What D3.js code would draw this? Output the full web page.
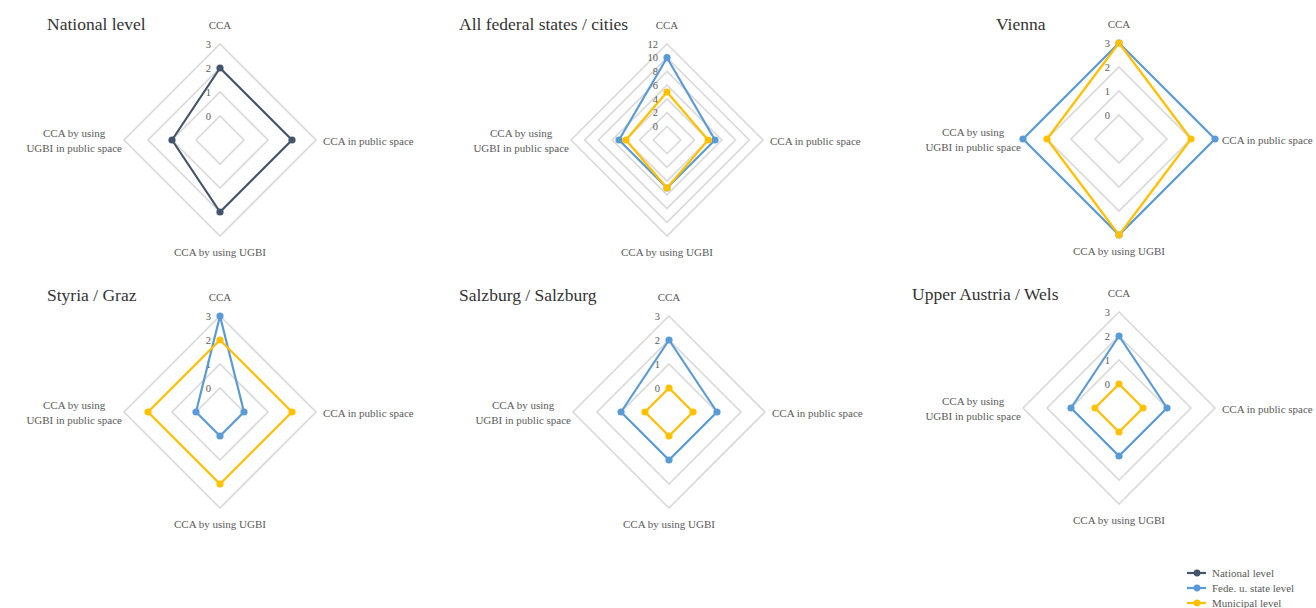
<!DOCTYPE html>
<html>
<head>
<meta charset="utf-8">
<script src="https://cdn.jsdelivr.net/npm/d3@7"></script>
<style>
  html, body { margin: 0; padding: 0; background: #fff; }
  svg { display: block; }
  text { font-family: "Liberation Serif", "Times New Roman", serif; }
</style>
</head>
<body>
<svg id="chart" width="1316" height="608"></svg>
<script>
// Dimensions rated on each axis
const axisLabels = [
  ["CCA"],
  ["CCA in public space"],
  ["CCA by using UGBI"],
  ["CCA by using", "UGBI in public space"]
];

// Scores per level
const nationalLevel      = [2, 2, 2, 1];
const allStatesFederal   = [10, 5, 5, 5];
const allStatesMunicipal = [5, 4, 5, 4];
const viennaFederal      = [3, 3, 3, 3];
const viennaMunicipal    = [3, 2, 3, 2];
const styriaFederal      = [3, 0, 0, 0];
const styriaMunicipal    = [2, 2, 2, 2];
const salzburgFederal    = [2, 1, 1, 1];
const salzburgMunicipal  = [0, 0, 0, 0];
const upperAustriaFederal   = [2, 1, 1, 1];
const upperAustriaMunicipal = [0, 0, 0, 0];

// Radial tick labels
const ticksSmall = [0, 1, 2, 3];
const ticksLarge = [0, 2, 4, 6, 8, 10, 12];

const seriesNames = ["National level", "Fede. u. state level", "Municipal level"];
const colors = { national: "#44546A", federal: "#5B9BD5", municipal: "#FFC000" };

const panels = [
  { title: "National level", cx: 220, cy: 140, tx: 47, ty: 30, ticks: ticksSmall, min: -1,
    series: [{ values: nationalLevel, color: colors.national }] },
  { title: "All federal states / cities", cx: 667, cy: 140, tx: 459, ty: 30, ticks: ticksLarge, min: -2,
    series: [{ values: allStatesFederal, color: colors.federal },
             { values: allStatesMunicipal, color: colors.municipal }] },
  { title: "Vienna", cx: 1119, cy: 139, tx: 996, ty: 30, ticks: ticksSmall, min: -1,
    series: [{ values: viennaFederal, color: colors.federal },
             { values: viennaMunicipal, color: colors.municipal }] },
  { title: "Styria / Graz", cx: 220, cy: 412, tx: 47, ty: 301, ticks: ticksSmall, min: -1,
    series: [{ values: styriaFederal, color: colors.federal },
             { values: styriaMunicipal, color: colors.municipal }] },
  { title: "Salzburg / Salzburg", cx: 669, cy: 412, tx: 459, ty: 301, ticks: ticksSmall, min: -1,
    series: [{ values: salzburgFederal, color: colors.federal },
             { values: salzburgMunicipal, color: colors.municipal }] },
  { title: "Upper Austria / Wels", cx: 1119, cy: 408, tx: 912, ty: 300, ticks: ticksSmall, min: -1,
    series: [{ values: upperAustriaFederal, color: colors.federal },
             { values: upperAustriaMunicipal, color: colors.municipal }] }
];

const svg = d3.select("#chart");
const R = 96;
const angle = d3.scaleLinear().domain([0, axisLabels.length]).range([0, 2 * Math.PI]);

panels.forEach(p => {
  const r = d3.scaleLinear().domain([p.min, d3.max(p.ticks)]).range([0, R]);
  const g = svg.append("g").attr("transform", `translate(${p.cx},${p.cy})`);

  const ring = d3.lineRadial()
    .angle((d, i) => angle(i))
    .radius(d => r(d))
    .curve(d3.curveLinearClosed);

  // grid rings
  g.selectAll("path.grid").data(p.ticks).join("path")
    .attr("class", "grid")
    .attr("d", t => ring(axisLabels.map(() => t)))
    .attr("fill", "none")
    .attr("stroke", "#D9D9D9")
    .attr("stroke-width", 1.6);

  // tick labels
  g.selectAll("text.tick").data(p.ticks).join("text")
    .attr("class", "tick")
    .attr("x", -9)
    .attr("y", t => -r(t))
    .attr("dy", "0.35em")
    .attr("text-anchor", "end")
    .attr("font-size", 10.5)
    .attr("fill", "#595959")
    .text(t => t);

  // axis labels
  const lab = g.append("g").attr("font-size", 11).attr("fill", "#595959");
  lab.append("text").attr("x", 0).attr("y", -115).attr("dy", "0.35em")
    .attr("text-anchor", "middle").text(axisLabels[0][0]);
  lab.append("text").attr("x", 103).attr("y", 1).attr("dy", "0.35em")
    .attr("text-anchor", "start").text(axisLabels[1][0]);
  lab.append("text").attr("x", 0).attr("y", 112).attr("dy", "0.35em")
    .attr("text-anchor", "middle").text(axisLabels[2][0]);
  const left = lab.append("text").attr("text-anchor", "middle");
  axisLabels[3].forEach((line, i) => {
    left.append("tspan").attr("x", 0).attr("y", -7 + i * 15).attr("dy", "0.35em").text(line);
  });
  const w = d3.max(left.selectAll("tspan").nodes(), n => n.getComputedTextLength());
  left.selectAll("tspan").attr("x", -98 - w / 2);

  // series
  p.series.forEach(s => {
    g.append("path")
      .attr("d", ring(s.values))
      .attr("fill", "none")
      .attr("stroke", s.color)
      .attr("stroke-width", 2.2)
      .attr("stroke-linejoin", "round");
    g.selectAll(null).data(s.values).join("circle")
      .attr("cx", (d, i) => r(d) * Math.sin(angle(i)))
      .attr("cy", (d, i) => -r(d) * Math.cos(angle(i)))
      .attr("r", 3.6)
      .attr("fill", s.color);
  });

  // panel title
  svg.append("text")
    .attr("x", p.tx).attr("y", p.ty)
    .attr("font-size", 17.5)
    .attr("fill", "#333333")
    .text(p.title);
});

// legend
const legendColors = [colors.national, colors.federal, colors.municipal];
const leg = svg.append("g").attr("transform", "translate(1187,573)");
const rows = leg.selectAll("g").data(seriesNames).join("g")
  .attr("transform", (d, i) => `translate(0,${i * 15})`);
rows.append("line").attr("x1", 0).attr("x2", 19).attr("y1", 0).attr("y2", 0)
  .attr("stroke", (d, i) => legendColors[i]).attr("stroke-width", 2.2);
rows.append("circle").attr("cx", 10).attr("cy", 0).attr("r", 3.4)
  .attr("fill", (d, i) => legendColors[i]);
rows.append("text").attr("x", 25).attr("y", 0).attr("dy", "0.35em")
  .attr("font-size", 11).attr("fill", "#595959").text(d => d);
</script>
</body>
</html>
